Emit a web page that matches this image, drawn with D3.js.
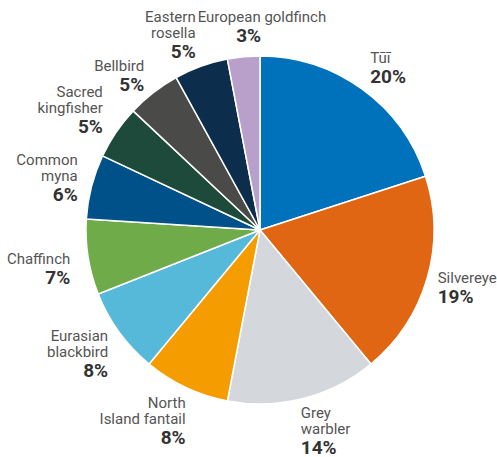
<!DOCTYPE html>
<html>
<head>
<meta charset="utf-8">
<script src="https://cdn.jsdelivr.net/npm/d3@7"></script>
<style>
  html, body { margin: 0; padding: 0; background: #fff; }
  svg { display: block; font-family: Roboto, "Noto Sans", sans-serif; }
  .name { fill: #555; font-size: 15px; }
  .pct { fill: #333; font-size: 19px; font-weight: 700; }
</style>
</head>
<body>
<svg id="chart" width="497" height="457"></svg>
<script>
// Bird species share (%)
const species = [
  "Tūī", "Silvereye", "Grey warbler", "North Island fantail", "Eurasian blackbird",
  "Chaffinch", "Common myna", "Sacred kingfisher", "Bellbird", "Eastern rosella",
  "European goldfinch"
];
const shares = [20, 19, 14, 8, 8, 7, 6, 5, 5, 5, 3];
// Label lines for each species (name split over lines)
const labelLines = [
  ["Tūī"], ["Silvereye"], ["Grey", "warbler"], ["North", "Island fantail"],
  ["Eurasian", "blackbird"], ["Chaffinch"], ["Common", "myna"],
  ["Sacred", "kingfisher"], ["Bellbird"], ["Eastern", "rosella"],
  ["European goldfinch"]
];
const colours = [
  "#0071BB", "#E06614", "#D4D7DB", "#F59C00", "#56B9DA",
  "#6FAB48", "#00508A", "#1E4A3C", "#4A4A48", "#0C2D4B", "#B9A0CB"
];

// Label placement relative to the point just outside each slice's rim:
// text anchor, horizontal nudge, first-baseline nudge (and a separate nudge for the % line)
const labelLayout = [
  { anchor: "start", dx: 2,   dy: -18 },
  { anchor: "start", dx: 1,   dy: 2 },
  { anchor: "start", dx: -5,  dy: 10 },
  { anchor: "end",   dx: 4,   dy: 12 },
  { anchor: "end",   dx: -3,  dy: 3 },
  { anchor: "end",   dx: -8,  dy: 5 },
  { anchor: "end",   dx: -4,  dy: -19 },
  { anchor: "end",   dx: -5,  dy: -30 },
  { anchor: "end",   dx: -3,  dy: -14 },
  { anchor: "end",   dx: -2,  dy: -35 },
  { anchor: "start", dx: -45, dy: -25, pctAnchor: "middle", pctDx: 6 }
];

const cx = 260, cy = 230, radius = 174;
const svg = d3.select("#chart");
const g = svg.append("g").attr("transform", `translate(${cx},${cy})`);

const data = species.map((s, i) => ({
  name: s, value: shares[i], lines: labelLines[i], colour: colours[i], layout: labelLayout[i]
}));

const pie = d3.pie().value(d => d.value).sort(null);
const arc = d3.arc().innerRadius(0).outerRadius(radius);
const arcs = pie(data);

g.selectAll("path.slice")
  .data(arcs)
  .join("path")
  .attr("class", "slice")
  .attr("d", arc)
  .attr("fill", d => d.data.colour)
  .attr("stroke", "#fff")
  .attr("stroke-width", 1.5)
  .attr("stroke-linejoin", "round");

// Rim point for each label
const labelArc = d3.arc().innerRadius(radius + 10).outerRadius(radius + 10);
const nameStep = 16, pctStep = 20;

arcs.forEach(a => {
  const [px, py] = labelArc.centroid(a);
  const L = a.data.layout;
  const x = px + L.dx;
  const y0 = py + L.dy;
  const lines = a.data.lines;

  const t = g.append("text");
  lines.forEach((ln, i) => {
    t.append("tspan").attr("class", "name")
      .attr("text-anchor", L.anchor)
      .attr("x", x).attr("y", y0 + i * nameStep).text(ln);
  });
  t.append("tspan").attr("class", "pct")
    .attr("text-anchor", L.pctAnchor || L.anchor)
    .attr("x", L.pctDx !== undefined ? px + L.pctDx : x)
    .attr("y", y0 + (lines.length - 1) * nameStep + pctStep)
    .text(a.data.value + "%");
});
</script>
</body>
</html>
